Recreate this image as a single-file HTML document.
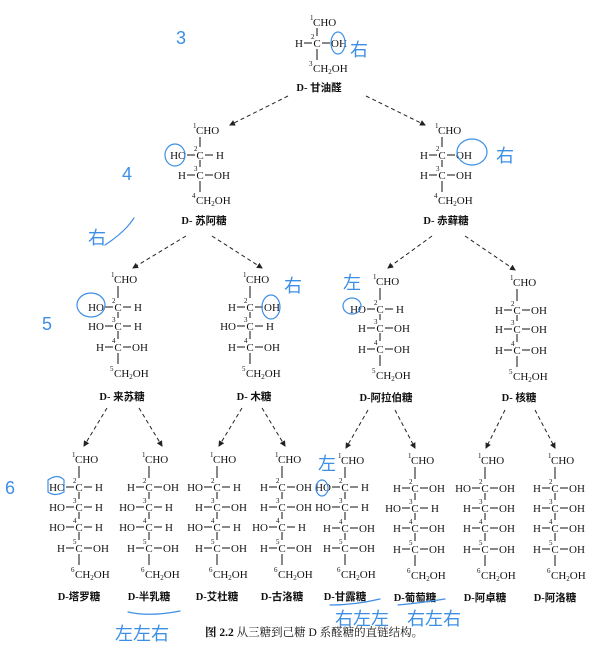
<!DOCTYPE html>
<html><head><meta charset="utf-8"><style>
html,body{margin:0;padding:0;background:#fff}
svg{display:block}
text{font-family:"Liberation Serif","Noto Serif CJK SC",serif;font-size:11px;fill:#111}
.n{font-size:7px}
.nm{font-family:"Liberation Serif","Noto Sans CJK SC",sans-serif;font-size:10.5px;font-weight:bold;text-anchor:middle}
.b{stroke:#111;stroke-width:1}
.a{stroke:#222;stroke-width:1;stroke-dasharray:4 3;fill:none}
.h{stroke:#3d8fe6;stroke-width:1.2;fill:none;stroke-linecap:round}
.ht{font-family:"Liberation Sans","Noto Sans CJK SC",sans-serif;fill:#3d8fe6;font-size:18px}
</style></head><body>
<svg width="602" height="645" viewBox="0 0 602 645" xmlns="http://www.w3.org/2000/svg">
<defs><marker id="ar" markerWidth="6" markerHeight="6" refX="5" refY="3" orient="auto"><path d="M0,0 L6,3 L0,6 z" fill="#222"/></marker></defs>

<!-- Glyceraldehyde -->
<g transform="translate(317,0)">
<text class="n" x="-7" y="20">1</text><text x="-4" y="26">CHO</text>
<line class="b" x1="0" y1="28" x2="0" y2="36"/>
<text x="-14" y="47" text-anchor="end">H</text><line class="b" x1="-13" y1="43" x2="-5" y2="43"/><text class="n" x="-6" y="39">2</text><text x="0" y="47" text-anchor="middle">C</text><line class="b" x1="5" y1="43" x2="13" y2="43"/><text x="14" y="47">OH</text>
<line class="b" x1="0" y1="49" x2="0" y2="60"/>
<text class="n" x="-8" y="66">3</text><text x="-4" y="72">CH<tspan font-size="7" dy="2">2</tspan><tspan dy="-2">OH</tspan></text>
<text class="nm" x="2" y="91">D- 甘油醛</text>
</g>
<line class="a" x1="288" y1="96" x2="230" y2="125" marker-end="url(#ar)"/>
<line class="a" x1="366" y1="96" x2="425" y2="125" marker-end="url(#ar)"/>

<!-- Tetroses -->
<g transform="translate(200,0)">
<text class="n" x="-7" y="128">1</text><text x="-4" y="134">CHO</text>
<line class="b" x1="0" y1="137" x2="0" y2="147"/>
<text x="-14" y="159" text-anchor="end">HO</text><line class="b" x1="-13" y1="155" x2="-5" y2="155"/><text class="n" x="-6" y="151">2</text><text x="0" y="159" text-anchor="middle">C</text><line class="b" x1="5" y1="155" x2="13" y2="155"/><text x="16" y="159">H</text>
<line class="b" x1="0" y1="160" x2="0" y2="167"/>
<text x="-14" y="179" text-anchor="end">H</text><line class="b" x1="-13" y1="175" x2="-5" y2="175"/><text class="n" x="-6" y="171">3</text><text x="0" y="179" text-anchor="middle">C</text><line class="b" x1="5" y1="175" x2="13" y2="175"/><text x="14" y="179">OH</text>
<line class="b" x1="0" y1="181" x2="0" y2="192"/>
<text class="n" x="-8" y="198">4</text><text x="-4" y="204">CH<tspan font-size="7" dy="2">2</tspan><tspan dy="-2">OH</tspan></text>
<text class="nm" x="4" y="224">D- 苏阿糖</text>
</g>
<g transform="translate(442,0)">
<text class="n" x="-7" y="128">1</text><text x="-4" y="134">CHO</text>
<line class="b" x1="0" y1="137" x2="0" y2="147"/>
<text x="-14" y="159" text-anchor="end">H</text><line class="b" x1="-13" y1="155" x2="-5" y2="155"/><text class="n" x="-6" y="151">2</text><text x="0" y="159" text-anchor="middle">C</text><line class="b" x1="5" y1="155" x2="13" y2="155"/><text x="14" y="159">OH</text>
<line class="b" x1="0" y1="160" x2="0" y2="167"/>
<text x="-14" y="179" text-anchor="end">H</text><line class="b" x1="-13" y1="175" x2="-5" y2="175"/><text class="n" x="-6" y="171">3</text><text x="0" y="179" text-anchor="middle">C</text><line class="b" x1="5" y1="175" x2="13" y2="175"/><text x="14" y="179">OH</text>
<line class="b" x1="0" y1="181" x2="0" y2="192"/>
<text class="n" x="-8" y="198">4</text><text x="-4" y="204">CH<tspan font-size="7" dy="2">2</tspan><tspan dy="-2">OH</tspan></text>
<text class="nm" x="4" y="224">D- 赤藓糖</text>
</g>
<line class="a" x1="186" y1="236" x2="133" y2="268" marker-end="url(#ar)"/>
<line class="a" x1="212" y1="236" x2="262" y2="268" marker-end="url(#ar)"/>
<line class="a" x1="432" y1="236" x2="388" y2="268" marker-end="url(#ar)"/>
<line class="a" x1="465" y1="236" x2="515" y2="270" marker-end="url(#ar)"/>

<!-- Pentoses -->
<g transform="translate(118,0)">
<text class="n" x="-7" y="277">1</text><text x="-4" y="283">CHO</text>
<line class="b" x1="0" y1="286" x2="0" y2="298"/>
<text x="-14" y="311" text-anchor="end">HO</text><line class="b" x1="-13" y1="307" x2="-5" y2="307"/><text class="n" x="-6" y="303">2</text><text x="0" y="311" text-anchor="middle">C</text><line class="b" x1="5" y1="307" x2="13" y2="307"/><text x="16" y="311">H</text>
<line class="b" x1="0" y1="312" x2="0" y2="318"/>
<text x="-14" y="330" text-anchor="end">HO</text><line class="b" x1="-13" y1="326" x2="-5" y2="326"/><text class="n" x="-6" y="322">3</text><text x="0" y="330" text-anchor="middle">C</text><line class="b" x1="5" y1="326" x2="13" y2="326"/><text x="16" y="330">H</text>
<line class="b" x1="0" y1="331" x2="0" y2="339"/>
<text x="-14" y="351" text-anchor="end">H</text><line class="b" x1="-13" y1="347" x2="-5" y2="347"/><text class="n" x="-6" y="343">4</text><text x="0" y="351" text-anchor="middle">C</text><line class="b" x1="5" y1="347" x2="13" y2="347"/><text x="14" y="351">OH</text>
<line class="b" x1="0" y1="353" x2="0" y2="364"/>
<text class="n" x="-8" y="371">5</text><text x="-4" y="377">CH<tspan font-size="7" dy="2">2</tspan><tspan dy="-2">OH</tspan></text>
<text class="nm" x="4" y="400">D- 来苏糖</text>
</g>
<g transform="translate(250,0)">
<text class="n" x="-7" y="277">1</text><text x="-4" y="283">CHO</text>
<line class="b" x1="0" y1="286" x2="0" y2="298"/>
<text x="-14" y="311" text-anchor="end">H</text><line class="b" x1="-13" y1="307" x2="-5" y2="307"/><text class="n" x="-6" y="303">2</text><text x="0" y="311" text-anchor="middle">C</text><line class="b" x1="5" y1="307" x2="13" y2="307"/><text x="14" y="311">OH</text>
<line class="b" x1="0" y1="312" x2="0" y2="318"/>
<text x="-14" y="330" text-anchor="end">HO</text><line class="b" x1="-13" y1="326" x2="-5" y2="326"/><text class="n" x="-6" y="322">3</text><text x="0" y="330" text-anchor="middle">C</text><line class="b" x1="5" y1="326" x2="13" y2="326"/><text x="16" y="330">H</text>
<line class="b" x1="0" y1="331" x2="0" y2="339"/>
<text x="-14" y="351" text-anchor="end">H</text><line class="b" x1="-13" y1="347" x2="-5" y2="347"/><text class="n" x="-6" y="343">4</text><text x="0" y="351" text-anchor="middle">C</text><line class="b" x1="5" y1="347" x2="13" y2="347"/><text x="14" y="351">OH</text>
<line class="b" x1="0" y1="353" x2="0" y2="364"/>
<text class="n" x="-8" y="371">5</text><text x="-4" y="377">CH<tspan font-size="7" dy="2">2</tspan><tspan dy="-2">OH</tspan></text>
<text class="nm" x="4" y="400">D- 木糖</text>
</g>
<g transform="translate(380,0)">
<text class="n" x="-7" y="279">1</text><text x="-4" y="285">CHO</text>
<line class="b" x1="0" y1="288" x2="0" y2="300"/>
<text x="-14" y="313" text-anchor="end">HO</text><line class="b" x1="-13" y1="309" x2="-5" y2="309"/><text class="n" x="-6" y="305">2</text><text x="0" y="313" text-anchor="middle">C</text><line class="b" x1="5" y1="309" x2="13" y2="309"/><text x="16" y="313">H</text>
<line class="b" x1="0" y1="314" x2="0" y2="320"/>
<text x="-14" y="332" text-anchor="end">H</text><line class="b" x1="-13" y1="328" x2="-5" y2="328"/><text class="n" x="-6" y="324">3</text><text x="0" y="332" text-anchor="middle">C</text><line class="b" x1="5" y1="328" x2="13" y2="328"/><text x="14" y="332">OH</text>
<line class="b" x1="0" y1="333" x2="0" y2="341"/>
<text x="-14" y="353" text-anchor="end">H</text><line class="b" x1="-13" y1="349" x2="-5" y2="349"/><text class="n" x="-6" y="345">4</text><text x="0" y="353" text-anchor="middle">C</text><line class="b" x1="5" y1="349" x2="13" y2="349"/><text x="14" y="353">OH</text>
<line class="b" x1="0" y1="355" x2="0" y2="366"/>
<text class="n" x="-8" y="373">5</text><text x="-4" y="379">CH<tspan font-size="7" dy="2">2</tspan><tspan dy="-2">OH</tspan></text>
<text class="nm" x="6" y="401">D-阿拉伯糖</text>
</g>
<g transform="translate(517,0)">
<text class="n" x="-7" y="280">1</text><text x="-4" y="286">CHO</text>
<line class="b" x1="0" y1="289" x2="0" y2="301"/>
<text x="-14" y="314" text-anchor="end">H</text><line class="b" x1="-13" y1="310" x2="-5" y2="310"/><text class="n" x="-6" y="306">2</text><text x="0" y="314" text-anchor="middle">C</text><line class="b" x1="5" y1="310" x2="13" y2="310"/><text x="14" y="314">OH</text>
<line class="b" x1="0" y1="315" x2="0" y2="321"/>
<text x="-14" y="333" text-anchor="end">H</text><line class="b" x1="-13" y1="329" x2="-5" y2="329"/><text class="n" x="-6" y="325">3</text><text x="0" y="333" text-anchor="middle">C</text><line class="b" x1="5" y1="329" x2="13" y2="329"/><text x="14" y="333">OH</text>
<line class="b" x1="0" y1="334" x2="0" y2="342"/>
<text x="-14" y="354" text-anchor="end">H</text><line class="b" x1="-13" y1="350" x2="-5" y2="350"/><text class="n" x="-6" y="346">4</text><text x="0" y="354" text-anchor="middle">C</text><line class="b" x1="5" y1="350" x2="13" y2="350"/><text x="14" y="354">OH</text>
<line class="b" x1="0" y1="356" x2="0" y2="367"/>
<text class="n" x="-8" y="374">5</text><text x="-4" y="380">CH<tspan font-size="7" dy="2">2</tspan><tspan dy="-2">OH</tspan></text>
<text class="nm" x="2" y="401">D- 核糖</text>
</g>
<g>
<line class="a" x1="107" y1="408" x2="84" y2="446" marker-end="url(#ar)"/>
<line class="a" x1="139" y1="408" x2="162" y2="446" marker-end="url(#ar)"/>
<line class="a" x1="242" y1="408" x2="219" y2="446" marker-end="url(#ar)"/>
<line class="a" x1="262" y1="408" x2="285" y2="446" marker-end="url(#ar)"/>
<line class="a" x1="368" y1="410" x2="346" y2="448" marker-end="url(#ar)"/>
<line class="a" x1="395" y1="410" x2="415" y2="448" marker-end="url(#ar)"/>
<line class="a" x1="505" y1="410" x2="486" y2="448" marker-end="url(#ar)"/>
<line class="a" x1="535" y1="410" x2="555" y2="448" marker-end="url(#ar)"/>
</g>

<!-- hexose backbone segments -->
<g class="b">
<line class="b" x1="79" y1="492" x2="79" y2="499"/><line class="b" x1="79" y1="512" x2="79" y2="519"/><line class="b" x1="79" y1="532" x2="79" y2="540"/>
<line class="b" x1="149" y1="492" x2="149" y2="499"/><line class="b" x1="149" y1="512" x2="149" y2="519"/><line class="b" x1="149" y1="532" x2="149" y2="540"/>
<line class="b" x1="217" y1="492" x2="217" y2="499"/><line class="b" x1="217" y1="512" x2="217" y2="519"/><line class="b" x1="217" y1="532" x2="217" y2="540"/>
<line class="b" x1="282" y1="492" x2="282" y2="499"/><line class="b" x1="282" y1="512" x2="282" y2="519"/><line class="b" x1="282" y1="532" x2="282" y2="540"/>
<line class="b" x1="345" y1="492" x2="345" y2="499"/><line class="b" x1="345" y1="512" x2="345" y2="520"/><line class="b" x1="345" y1="533" x2="345" y2="540"/>
<line class="b" x1="415" y1="493" x2="415" y2="500"/><line class="b" x1="415" y1="513" x2="415" y2="520"/><line class="b" x1="415" y1="533" x2="415" y2="541"/>
<line class="b" x1="485" y1="493" x2="485" y2="500"/><line class="b" x1="485" y1="513" x2="485" y2="520"/><line class="b" x1="485" y1="533" x2="485" y2="541"/>
<line class="b" x1="555" y1="493" x2="555" y2="500"/><line class="b" x1="555" y1="513" x2="555" y2="520"/><line class="b" x1="555" y1="533" x2="555" y2="541"/>
</g>

<!-- Hexoses -->
<g transform="translate(79,0)">
<text class="n" x="-7" y="457">1</text><text x="-4" y="463">CHO</text><line class="b" x1="0" y1="466" x2="0" y2="478"/>
<text x="-14" y="491" text-anchor="end">HO</text><line class="b" x1="-13" y1="487" x2="-5" y2="487"/><text class="n" x="-6" y="483">2</text><text x="0" y="491" text-anchor="middle">C</text><line class="b" x1="5" y1="487" x2="13" y2="487"/><text x="16" y="491">H</text>
<text x="-14" y="511" text-anchor="end">HO</text><line class="b" x1="-13" y1="507" x2="-5" y2="507"/><text class="n" x="-6" y="503">3</text><text x="0" y="511" text-anchor="middle">C</text><line class="b" x1="5" y1="507" x2="13" y2="507"/><text x="16" y="511">H</text>
<text x="-14" y="531" text-anchor="end">HO</text><line class="b" x1="-13" y1="527" x2="-5" y2="527"/><text class="n" x="-6" y="523">4</text><text x="0" y="531" text-anchor="middle">C</text><line class="b" x1="5" y1="527" x2="13" y2="527"/><text x="16" y="531">H</text>
<text x="-14" y="552" text-anchor="end">H</text><line class="b" x1="-13" y1="548" x2="-5" y2="548"/><text class="n" x="-6" y="544">5</text><text x="0" y="552" text-anchor="middle">C</text><line class="b" x1="5" y1="548" x2="13" y2="548"/><text x="14" y="552">OH</text>
<line class="b" x1="0" y1="554" x2="0" y2="565"/>
<text class="n" x="-8" y="572">6</text><text x="-4" y="578">CH<tspan font-size="7" dy="2">2</tspan><tspan dy="-2">OH</tspan></text>
<text class="nm" x="0" y="600">D-塔罗糖</text>
</g>
<g transform="translate(149,0)">
<text class="n" x="-7" y="457">1</text><text x="-4" y="463">CHO</text><line class="b" x1="0" y1="466" x2="0" y2="478"/>
<text x="-14" y="491" text-anchor="end">H</text><line class="b" x1="-13" y1="487" x2="-5" y2="487"/><text class="n" x="-6" y="483">2</text><text x="0" y="491" text-anchor="middle">C</text><line class="b" x1="5" y1="487" x2="13" y2="487"/><text x="14" y="491">OH</text>
<text x="-14" y="511" text-anchor="end">HO</text><line class="b" x1="-13" y1="507" x2="-5" y2="507"/><text class="n" x="-6" y="503">3</text><text x="0" y="511" text-anchor="middle">C</text><line class="b" x1="5" y1="507" x2="13" y2="507"/><text x="16" y="511">H</text>
<text x="-14" y="531" text-anchor="end">HO</text><line class="b" x1="-13" y1="527" x2="-5" y2="527"/><text class="n" x="-6" y="523">4</text><text x="0" y="531" text-anchor="middle">C</text><line class="b" x1="5" y1="527" x2="13" y2="527"/><text x="16" y="531">H</text>
<text x="-14" y="552" text-anchor="end">H</text><line class="b" x1="-13" y1="548" x2="-5" y2="548"/><text class="n" x="-6" y="544">5</text><text x="0" y="552" text-anchor="middle">C</text><line class="b" x1="5" y1="548" x2="13" y2="548"/><text x="14" y="552">OH</text>
<line class="b" x1="0" y1="554" x2="0" y2="565"/>
<text class="n" x="-8" y="572">6</text><text x="-4" y="578">CH<tspan font-size="7" dy="2">2</tspan><tspan dy="-2">OH</tspan></text>
<text class="nm" x="0" y="600">D-半乳糖</text>
</g>
<g transform="translate(217,0)">
<text class="n" x="-7" y="457">1</text><text x="-4" y="463">CHO</text><line class="b" x1="0" y1="466" x2="0" y2="478"/>
<text x="-14" y="491" text-anchor="end">HO</text><line class="b" x1="-13" y1="487" x2="-5" y2="487"/><text class="n" x="-6" y="483">2</text><text x="0" y="491" text-anchor="middle">C</text><line class="b" x1="5" y1="487" x2="13" y2="487"/><text x="16" y="491">H</text>
<text x="-14" y="511" text-anchor="end">H</text><line class="b" x1="-13" y1="507" x2="-5" y2="507"/><text class="n" x="-6" y="503">3</text><text x="0" y="511" text-anchor="middle">C</text><line class="b" x1="5" y1="507" x2="13" y2="507"/><text x="14" y="511">OH</text>
<text x="-14" y="531" text-anchor="end">HO</text><line class="b" x1="-13" y1="527" x2="-5" y2="527"/><text class="n" x="-6" y="523">4</text><text x="0" y="531" text-anchor="middle">C</text><line class="b" x1="5" y1="527" x2="13" y2="527"/><text x="16" y="531">H</text>
<text x="-14" y="552" text-anchor="end">H</text><line class="b" x1="-13" y1="548" x2="-5" y2="548"/><text class="n" x="-6" y="544">5</text><text x="0" y="552" text-anchor="middle">C</text><line class="b" x1="5" y1="548" x2="13" y2="548"/><text x="14" y="552">OH</text>
<line class="b" x1="0" y1="554" x2="0" y2="565"/>
<text class="n" x="-8" y="572">6</text><text x="-4" y="578">CH<tspan font-size="7" dy="2">2</tspan><tspan dy="-2">OH</tspan></text>
<text class="nm" x="0" y="600">D-艾杜糖</text>
</g>
<g transform="translate(282,0)">
<text class="n" x="-7" y="457">1</text><text x="-4" y="463">CHO</text><line class="b" x1="0" y1="466" x2="0" y2="478"/>
<text x="-14" y="491" text-anchor="end">H</text><line class="b" x1="-13" y1="487" x2="-5" y2="487"/><text class="n" x="-6" y="483">2</text><text x="0" y="491" text-anchor="middle">C</text><line class="b" x1="5" y1="487" x2="13" y2="487"/><text x="14" y="491">OH</text>
<text x="-14" y="511" text-anchor="end">H</text><line class="b" x1="-13" y1="507" x2="-5" y2="507"/><text class="n" x="-6" y="503">3</text><text x="0" y="511" text-anchor="middle">C</text><line class="b" x1="5" y1="507" x2="13" y2="507"/><text x="14" y="511">OH</text>
<text x="-14" y="531" text-anchor="end">HO</text><line class="b" x1="-13" y1="527" x2="-5" y2="527"/><text class="n" x="-6" y="523">4</text><text x="0" y="531" text-anchor="middle">C</text><line class="b" x1="5" y1="527" x2="13" y2="527"/><text x="16" y="531">H</text>
<text x="-14" y="552" text-anchor="end">H</text><line class="b" x1="-13" y1="548" x2="-5" y2="548"/><text class="n" x="-6" y="544">5</text><text x="0" y="552" text-anchor="middle">C</text><line class="b" x1="5" y1="548" x2="13" y2="548"/><text x="14" y="552">OH</text>
<line class="b" x1="0" y1="554" x2="0" y2="565"/>
<text class="n" x="-8" y="572">6</text><text x="-4" y="578">CH<tspan font-size="7" dy="2">2</tspan><tspan dy="-2">OH</tspan></text>
<text class="nm" x="0" y="600">D-古洛糖</text>
</g>
<g transform="translate(345,0)">
<text class="n" x="-7" y="458">1</text><text x="-4" y="464">CHO</text><line class="b" x1="0" y1="467" x2="0" y2="478"/>
<text x="-14" y="491" text-anchor="end">HO</text><line class="b" x1="-13" y1="487" x2="-5" y2="487"/><text class="n" x="-6" y="483">2</text><text x="0" y="491" text-anchor="middle">C</text><line class="b" x1="5" y1="487" x2="13" y2="487"/><text x="16" y="491">H</text>
<text x="-14" y="511" text-anchor="end">HO</text><line class="b" x1="-13" y1="507" x2="-5" y2="507"/><text class="n" x="-6" y="503">3</text><text x="0" y="511" text-anchor="middle">C</text><line class="b" x1="5" y1="507" x2="13" y2="507"/><text x="16" y="511">H</text>
<text x="-14" y="532" text-anchor="end">H</text><line class="b" x1="-13" y1="528" x2="-5" y2="528"/><text class="n" x="-6" y="524">4</text><text x="0" y="532" text-anchor="middle">C</text><line class="b" x1="5" y1="528" x2="13" y2="528"/><text x="14" y="532">OH</text>
<text x="-14" y="552" text-anchor="end">H</text><line class="b" x1="-13" y1="548" x2="-5" y2="548"/><text class="n" x="-6" y="544">5</text><text x="0" y="552" text-anchor="middle">C</text><line class="b" x1="5" y1="548" x2="13" y2="548"/><text x="14" y="552">OH</text>
<line class="b" x1="0" y1="554" x2="0" y2="565"/>
<text class="n" x="-8" y="572">6</text><text x="-4" y="578">CH<tspan font-size="7" dy="2">2</tspan><tspan dy="-2">OH</tspan></text>
<text class="nm" x="0" y="600">D-甘露糖</text>
</g>
<g transform="translate(415,0)">
<text class="n" x="-7" y="458">1</text><text x="-4" y="464">CHO</text><line class="b" x1="0" y1="467" x2="0" y2="479"/>
<text x="-14" y="492" text-anchor="end">H</text><line class="b" x1="-13" y1="488" x2="-5" y2="488"/><text class="n" x="-6" y="484">2</text><text x="0" y="492" text-anchor="middle">C</text><line class="b" x1="5" y1="488" x2="13" y2="488"/><text x="14" y="492">OH</text>
<text x="-14" y="512" text-anchor="end">HO</text><line class="b" x1="-13" y1="508" x2="-5" y2="508"/><text class="n" x="-6" y="504">3</text><text x="0" y="512" text-anchor="middle">C</text><line class="b" x1="5" y1="508" x2="13" y2="508"/><text x="16" y="512">H</text>
<text x="-14" y="532" text-anchor="end">H</text><line class="b" x1="-13" y1="528" x2="-5" y2="528"/><text class="n" x="-6" y="524">4</text><text x="0" y="532" text-anchor="middle">C</text><line class="b" x1="5" y1="528" x2="13" y2="528"/><text x="14" y="532">OH</text>
<text x="-14" y="553" text-anchor="end">H</text><line class="b" x1="-13" y1="549" x2="-5" y2="549"/><text class="n" x="-6" y="545">5</text><text x="0" y="553" text-anchor="middle">C</text><line class="b" x1="5" y1="549" x2="13" y2="549"/><text x="14" y="553">OH</text>
<line class="b" x1="0" y1="555" x2="0" y2="566"/>
<text class="n" x="-8" y="573">6</text><text x="-4" y="579">CH<tspan font-size="7" dy="2">2</tspan><tspan dy="-2">OH</tspan></text>
<text class="nm" x="0" y="601">D-葡萄糖</text>
</g>
<g transform="translate(485,0)">
<text class="n" x="-7" y="458">1</text><text x="-4" y="464">CHO</text><line class="b" x1="0" y1="467" x2="0" y2="479"/>
<text x="-14" y="492" text-anchor="end">HO</text><line class="b" x1="-13" y1="488" x2="-5" y2="488"/><text class="n" x="-6" y="484">2</text><text x="0" y="492" text-anchor="middle">C</text><line class="b" x1="5" y1="488" x2="13" y2="488"/><text x="14" y="492">OH</text>
<text x="-14" y="512" text-anchor="end">H</text><line class="b" x1="-13" y1="508" x2="-5" y2="508"/><text class="n" x="-6" y="504">3</text><text x="0" y="512" text-anchor="middle">C</text><line class="b" x1="5" y1="508" x2="13" y2="508"/><text x="14" y="512">OH</text>
<text x="-14" y="532" text-anchor="end">H</text><line class="b" x1="-13" y1="528" x2="-5" y2="528"/><text class="n" x="-6" y="524">4</text><text x="0" y="532" text-anchor="middle">C</text><line class="b" x1="5" y1="528" x2="13" y2="528"/><text x="14" y="532">OH</text>
<text x="-14" y="553" text-anchor="end">H</text><line class="b" x1="-13" y1="549" x2="-5" y2="549"/><text class="n" x="-6" y="545">5</text><text x="0" y="553" text-anchor="middle">C</text><line class="b" x1="5" y1="549" x2="13" y2="549"/><text x="14" y="553">OH</text>
<line class="b" x1="0" y1="555" x2="0" y2="566"/>
<text class="n" x="-8" y="573">6</text><text x="-4" y="579">CH<tspan font-size="7" dy="2">2</tspan><tspan dy="-2">OH</tspan></text>
<text class="nm" x="0" y="601">D-阿卓糖</text>
</g>
<g transform="translate(555,0)">
<text class="n" x="-7" y="458">1</text><text x="-4" y="464">CHO</text><line class="b" x1="0" y1="467" x2="0" y2="479"/>
<text x="-14" y="492" text-anchor="end">H</text><line class="b" x1="-13" y1="488" x2="-5" y2="488"/><text class="n" x="-6" y="484">2</text><text x="0" y="492" text-anchor="middle">C</text><line class="b" x1="5" y1="488" x2="13" y2="488"/><text x="14" y="492">OH</text>
<text x="-14" y="512" text-anchor="end">H</text><line class="b" x1="-13" y1="508" x2="-5" y2="508"/><text class="n" x="-6" y="504">3</text><text x="0" y="512" text-anchor="middle">C</text><line class="b" x1="5" y1="508" x2="13" y2="508"/><text x="14" y="512">OH</text>
<text x="-14" y="532" text-anchor="end">H</text><line class="b" x1="-13" y1="528" x2="-5" y2="528"/><text class="n" x="-6" y="524">4</text><text x="0" y="532" text-anchor="middle">C</text><line class="b" x1="5" y1="528" x2="13" y2="528"/><text x="14" y="532">OH</text>
<text x="-14" y="553" text-anchor="end">H</text><line class="b" x1="-13" y1="549" x2="-5" y2="549"/><text class="n" x="-6" y="545">5</text><text x="0" y="553" text-anchor="middle">C</text><line class="b" x1="5" y1="549" x2="13" y2="549"/><text x="14" y="553">OH</text>
<line class="b" x1="0" y1="555" x2="0" y2="566"/>
<text class="n" x="-8" y="573">6</text><text x="-4" y="579">CH<tspan font-size="7" dy="2">2</tspan><tspan dy="-2">OH</tspan></text>
<text class="nm" x="0" y="601">D-阿洛糖</text>
</g>

<text x="205" y="636" style="font-family:'Liberation Serif','Noto Serif CJK SC',serif;font-size:11.5px"><tspan font-weight="bold">图 2.2</tspan>  从三糖到己糖 D 系醛糖的直链结构。</text>

<!-- handwritten annotations -->
<g>
<text class="ht" x="176" y="44">3</text>
<ellipse class="h" cx="338" cy="43" rx="7" ry="11"/>
<text class="ht" x="350" y="56">右</text>
<text class="ht" x="122" y="180" font-size="22">4</text>
<ellipse class="h" cx="175" cy="155" rx="10" ry="11"/>
<ellipse class="h" cx="472" cy="152" rx="15" ry="13"/>
<text class="ht" x="496" y="162">右</text>
<text class="ht" x="88" y="244" font-size="22">右</text>
<path class="h" d="M105,245 Q125,232 134,218"/>
<text class="ht" x="42" y="330" font-size="20">5</text>
<ellipse class="h" cx="91" cy="305" rx="14" ry="12"/>
<ellipse class="h" cx="271" cy="307" rx="9" ry="12"/>
<text class="ht" x="284" y="292">右</text>
<text class="ht" x="343" y="289">左</text>
<ellipse class="h" cx="352" cy="306" rx="9" ry="8"/>
<text class="ht" x="5" y="494" font-size="22">6</text>
<path class="h" d="M48,480 Q58,473 64,480 L64,492 Q55,497 48,492 Z"/>
<text class="ht" x="318" y="470">左</text>
<ellipse class="h" cx="322" cy="488" rx="6" ry="8"/>
<path class="h" d="M128,612 Q150,617 180,611"/>
<text class="ht" x="115" y="640">左左右</text>
<path class="h" d="M330,605 Q355,605 380,599"/>
<text class="ht" x="335" y="625" font-size="15">右左左</text>
<path class="h" d="M398,605 Q420,603 445,599"/>
<text class="ht" x="407" y="625" font-size="15">右左右</text>
</g>
</svg>
</body></html>
